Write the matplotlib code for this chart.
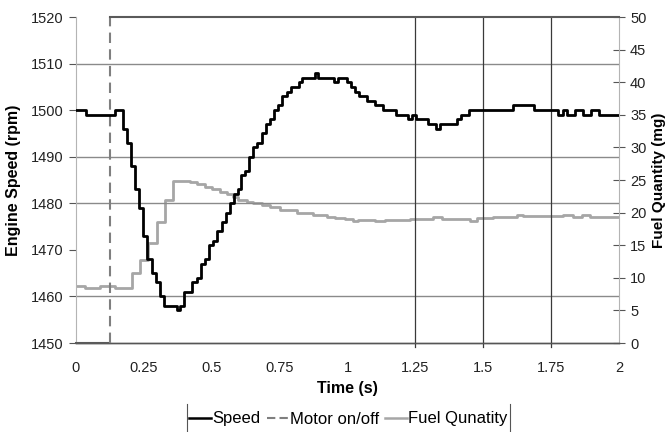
import numpy as np
import matplotlib
matplotlib.use("Agg")
import matplotlib.pyplot as plt
from matplotlib.lines import Line2D

plt.rcParams['font.family'] = ['Liberation Sans', 'DejaVu Sans']

# ---- data (step change times and values) ----
speed_t = [0.0, 0.037, 0.144, 0.172, 0.187, 0.201, 0.217, 0.232, 0.248, 0.263,
           0.279, 0.293, 0.309, 0.324, 0.371, 0.383, 0.398, 0.428, 0.444, 0.459,
           0.475, 0.490, 0.506, 0.520, 0.537, 0.551, 0.567, 0.582, 0.598, 0.607,
           0.622, 0.637, 0.653, 0.668, 0.684, 0.699, 0.715, 0.729, 0.745, 0.760,
           0.776, 0.791, 0.821, 0.831, 0.880, 0.893, 0.950, 0.966, 0.997, 1.012,
           1.028, 1.042, 1.071, 1.101, 1.132, 1.179, 1.224, 1.236, 1.252, 1.298,
           1.326, 1.341, 1.402, 1.417, 1.449, 1.611, 1.687, 1.777, 1.793, 1.807,
           1.838, 1.869, 1.896, 1.927, 2.0]
speed_v = [1500, 1499, 1500, 1496, 1493, 1488, 1483, 1479, 1473, 1468,
           1465, 1463, 1460, 1458, 1457, 1458, 1461, 1463, 1464, 1467,
           1468, 1471, 1472, 1474, 1476, 1478, 1480, 1482, 1483, 1486,
           1487, 1490, 1492, 1493, 1495, 1497, 1498, 1500, 1501, 1503,
           1504, 1505, 1506, 1507, 1508, 1507, 1506, 1507, 1506, 1505,
           1504, 1503, 1502, 1501, 1500, 1499, 1498, 1499, 1498, 1497,
           1496, 1497, 1498, 1499, 1500, 1501, 1500, 1499, 1500, 1499,
           1500, 1499, 1500, 1499, 1499]

fuel_t = [0.0, 0.033, 0.088, 0.144, 0.205, 0.236, 0.266, 0.297, 0.328, 0.359,
          0.420, 0.444, 0.475, 0.500, 0.530, 0.555, 0.579, 0.598, 0.629, 0.653,
          0.684, 0.715, 0.751, 0.813, 0.874, 0.923, 0.954, 0.991, 1.021, 1.040,
          1.101, 1.138, 1.230, 1.316, 1.347, 1.451, 1.476, 1.537, 1.623, 1.648,
          1.795, 1.832, 1.863, 1.893, 2.0]
fuel_v = [8.7, 8.5, 8.7, 8.5, 10.7, 12.7, 15.4, 18.6, 22.0, 24.9,
          24.7, 24.4, 23.9, 23.6, 23.2, 22.9, 22.4, 22.0, 21.7, 21.5,
          21.2, 20.8, 20.4, 19.9, 19.6, 19.4, 19.1, 19.0, 18.7, 18.9,
          18.7, 18.9, 19.0, 19.3, 19.0, 18.7, 19.1, 19.4, 19.6, 19.5,
          19.7, 19.4, 19.7, 19.4, 19.4]

motor_t = [0.0, 0.125, 0.125, 2.0]
motor_v = [1450, 1450, 1520, 1520]

x_ticks = [0, 0.25, 0.5, 0.75, 1, 1.25, 1.5, 1.75, 2]
x_ticklabels = ["0", "0.25", "0.5", "0.75", "1", "1.25", "1.5", "1.75", "2"]
y_ticks = list(range(1450, 1521, 10))
y2_ticks = list(range(0, 51, 5))
h_grid = [1460, 1480, 1490, 1510]
v_lines = [1.25, 1.5, 1.75]

# ---- figure ----
fig = plt.figure(figsize=(6.68, 4.32), dpi=100)
ax = fig.add_axes([76/668, 1 - 343/432, (619-76)/668, (343-17)/432])
ax2 = ax.twinx()

ax.set_xlim(0, 2)
ax.set_ylim(1450, 1520)
ax2.set_ylim(0, 50)

for g in h_grid:
    ax.axhline(g, color='#8a8a8a', lw=1.0, zorder=1)
for v in v_lines:
    ax.axvline(v, ymin=-0.012, ymax=1, color='#3a3a3a', lw=0.9, zorder=1, clip_on=False)

# motor on/off: vertical transitions dashed, levels solid
for i in range(len(motor_t) - 1):
    xs = motor_t[i:i+2]
    ys = motor_v[i:i+2]
    if xs[0] == xs[1]:
        ax.plot(xs, ys, color='#7f7f7f', lw=1.5, ls=(0, (5, 3)), zorder=3)
    else:
        ax.plot(xs, ys, color='#5a5a5a', lw=1.5, zorder=3, clip_on=False)

ax2.step(fuel_t, fuel_v, where='post', color='#a6a6a6', lw=2.0, zorder=2)
ax.step(speed_t, speed_v, where='post', color='black', lw=2.0, zorder=4)
ax.set_zorder(ax2.get_zorder() + 1)
ax.patch.set_visible(False)

ax.set_xticks(x_ticks)
ax.set_xticklabels(x_ticklabels)
ax.set_yticks(y_ticks)
ax2.set_yticks(y2_ticks)

ax.tick_params(axis='x', length=0, pad=13, labelsize=10.5, colors='#222222')
ax.tick_params(axis='y', length=5, width=0.8, color='#555555', pad=4, labelsize=10.5, labelcolor='#222222')
ax2.tick_params(axis='y', direction='inout', length=8, width=0.8, color='#555555', pad=4,
                labelsize=10.5, labelcolor='#222222')

for a in (ax, ax2):
    a.spines['top'].set_visible(False)
    a.spines['left'].set_color('#b4b4b4')
    a.spines['right'].set_color('#b4b4b4')
    a.spines['bottom'].set_color('#555555')
    a.spines['bottom'].set_linewidth(1.0)
ax2.spines['left'].set_visible(False)
ax.spines['right'].set_visible(False)

ax.set_xlabel("Time (s)", fontsize=11.5, fontweight='bold', labelpad=4)
ax.set_ylabel("Engine Speed (rpm)", fontsize=11.5, fontweight='bold', labelpad=7)
ax2.set_ylabel("Fuel Quantity (mg)", fontsize=11, fontweight='bold', labelpad=4)

handles = [Line2D([], [], color='black', lw=1.8),
           Line2D([], [], color='#7f7f7f', lw=1.5, ls=(0, (4, 2))),
           Line2D([], [], color='#a6a6a6', lw=1.8)]
labels = ["Speed", "Motor on/off", "Fuel Qunatity"]
leg = fig.legend(handles, labels, loc='center', bbox_to_anchor=(348.5/668, 1 - 419/432),
                 ncol=3, frameon=False, fontsize=12, handlelength=1.3,
                 handletextpad=0.1, columnspacing=0.35, borderpad=0.15, borderaxespad=0)

fig.canvas.draw()
bb = leg.get_window_extent().transformed(fig.transFigure.inverted())
for xx in (bb.x0, bb.x1):
    fig.add_artist(Line2D([xx, xx], [0, 1 - 404/432], transform=fig.transFigure,
                          color='#555555', lw=0.8))

fig.savefig("out.png", dpi=100)
